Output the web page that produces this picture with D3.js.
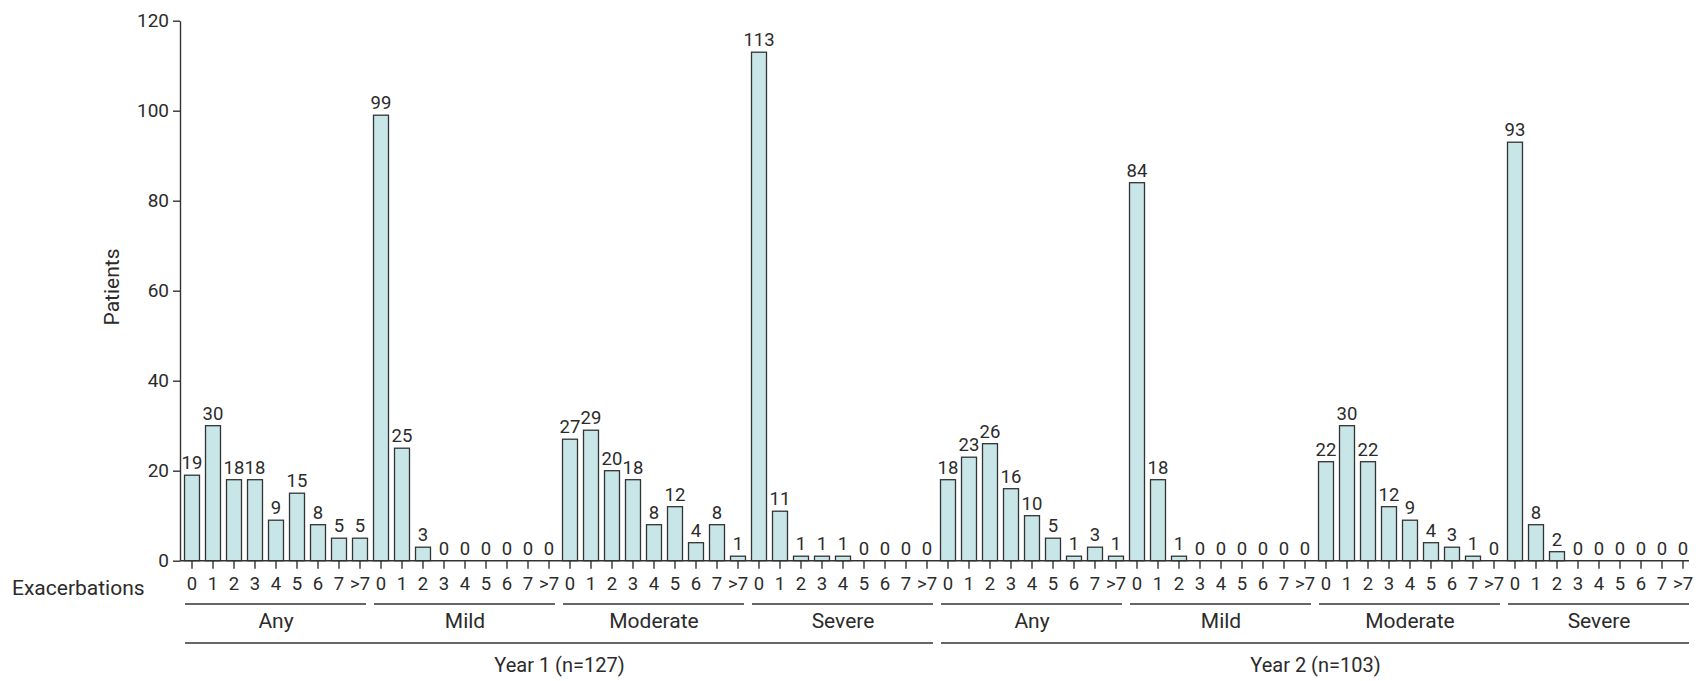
<!DOCTYPE html>
<html>
<head>
<meta charset="utf-8">
<script src="https://cdn.jsdelivr.net/npm/d3@7"></script>
<style>
  body { margin: 0; background: #fff; }
  text { font-family: Roboto, 'Noto Sans', sans-serif; fill: #2b2b2b; }
</style>
</head>
<body>
<script>
const WIDTH = 1696
const HEIGHT = 681

// categories
const exacerbations = ['0', '1', '2', '3', '4', '5', '6', '7', '>7']
const severities = ['Any', 'Mild', 'Moderate', 'Severe']
const years = ['Year 1 (n=127)', 'Year 2 (n=103)']
const yTicks = [0, 20, 40, 60, 80, 100, 120]

// patients per number of exacerbations
const year1Any = [19, 30, 18, 18, 9, 15, 8, 5, 5]
const year1Mild = [99, 25, 3, 0, 0, 0, 0, 0, 0]
const year1Moderate = [27, 29, 20, 18, 8, 12, 4, 8, 1]
const year1Severe = [113, 11, 1, 1, 1, 0, 0, 0, 0]
const year2Any = [18, 23, 26, 16, 10, 5, 1, 3, 1]
const year2Mild = [84, 18, 1, 0, 0, 0, 0, 0, 0]
const year2Moderate = [22, 30, 22, 12, 9, 4, 3, 1, 0]
const year2Severe = [93, 8, 2, 0, 0, 0, 0, 0, 0]

const series = [
  [year1Any, year1Mild, year1Moderate, year1Severe],
  [year2Any, year2Mild, year2Moderate, year2Severe],
]

const rows = []
series.forEach((yr, yi) => {
  yr.forEach((vals, si) => {
    vals.forEach((v, ei) => {
      rows.push({ year: yi, sev: si, exac: exacerbations[ei], value: v, key: `${yi}-${si}-${ei}` })
    })
  })
})

const svg = d3.select('body').append('svg')
  .attr('width', WIDTH)
  .attr('height', HEIGHT)

const x = d3.scaleBand()
  .domain(rows.map(d => d.key))
  .range([181.5, 1693.5])
  .paddingInner(0.286)
  .paddingOuter(0.143)

const y = d3.scaleLinear()
  .domain([0, 120])
  .range([560.7, 20.7])

const cx = k => x(k) + x.bandwidth() / 2

// y axis
const leftAxis = svg.append('g')
  .attr('transform', 'translate(180,0)')
  .call(d3.axisLeft(y).tickValues(yTicks).tickSize(7).tickSizeOuter(0).tickPadding(4))
leftAxis.selectAll('path, line').attr('stroke', '#333').attr('stroke-width', 1.4)
leftAxis.selectAll('text').style('font-size', '19px').style('font-family', 'Roboto').attr('fill', '#2b2b2b')

// x axis
const bottomAxis = svg.append('g')
  .attr('transform', `translate(0,${y(0)})`)
  .call(d3.axisBottom(x).tickSize(8).tickSizeOuter(0).tickFormat(k => rows.find(r => r.key === k).exac))
bottomAxis.select('.domain').remove()
bottomAxis.selectAll('line').attr('stroke', '#333').attr('stroke-width', 1.4)
bottomAxis.selectAll('text')
  .attr('dy', null)
  .attr('y', 29.5)
  .style('font-size', '18.5px')
  .style('font-family', 'Roboto')
  .attr('fill', '#2b2b2b')

// bars
svg.append('g').selectAll('rect')
  .data(rows)
  .enter()
  .append('rect')
  .attr('x', d => x(d.key))
  .attr('y', d => y(d.value))
  .attr('width', x.bandwidth())
  .attr('height', d => y(0) - y(d.value))
  .attr('fill', '#c8e6e8')
  .attr('stroke', '#333')
  .attr('stroke-width', 1.3)

// baseline drawn over bars
svg.append('line')
  .attr('x1', 180).attr('x2', cx(rows[rows.length - 1].key) + 6)
  .attr('y1', y(0)).attr('y2', y(0))
  .attr('stroke', '#333').attr('stroke-width', 1.4)

// value labels
svg.append('g').selectAll('text')
  .data(rows)
  .enter()
  .append('text')
  .attr('x', d => cx(d.key))
  .attr('y', d => y(d.value) - 6)
  .attr('text-anchor', 'middle')
  .style('font-size', '18.5px')
  .text(d => d.value)

// severity groups
const groups = []
series.forEach((yr, yi) => yr.forEach((vals, si) => groups.push({ yi, si })))

const groupG = svg.append('g')
groupG.selectAll('line')
  .data(groups)
  .enter()
  .append('line')
  .attr('x1', d => cx(`${d.yi}-${d.si}-0`) - 7)
  .attr('x2', d => cx(`${d.yi}-${d.si}-8`) + 6)
  .attr('y1', 604).attr('y2', 604)
  .attr('stroke', '#333').attr('stroke-width', 1.4)
groupG.selectAll('text')
  .data(groups)
  .enter()
  .append('text')
  .attr('x', d => (cx(`${d.yi}-${d.si}-0`) + cx(`${d.yi}-${d.si}-8`)) / 2)
  .attr('y', 628)
  .attr('text-anchor', 'middle')
  .style('font-size', '21px')
  .text(d => severities[d.si])

// years
const yearG = svg.append('g')
yearG.selectAll('line')
  .data(years)
  .enter()
  .append('line')
  .attr('x1', (d, i) => cx(`${i}-0-0`) - 7)
  .attr('x2', (d, i) => cx(`${i}-3-8`) + 6)
  .attr('y1', 643).attr('y2', 643)
  .attr('stroke', '#333').attr('stroke-width', 1.4)
yearG.selectAll('text')
  .data(years)
  .enter()
  .append('text')
  .attr('x', (d, i) => (cx(`${i}-0-0`) + cx(`${i}-3-8`)) / 2)
  .attr('y', 672)
  .attr('text-anchor', 'middle')
  .style('font-size', '20px')
  .text(d => d)

// axis titles
svg.append('text')
  .attr('x', 12)
  .attr('y', 595)
  .style('font-size', '21px')
  .text('Exacerbations')

svg.append('text')
  .attr('transform', 'translate(119,287) rotate(-90)')
  .attr('text-anchor', 'middle')
  .style('font-size', '21px')
  .text('Patients')
</script>
</body>
</html>
